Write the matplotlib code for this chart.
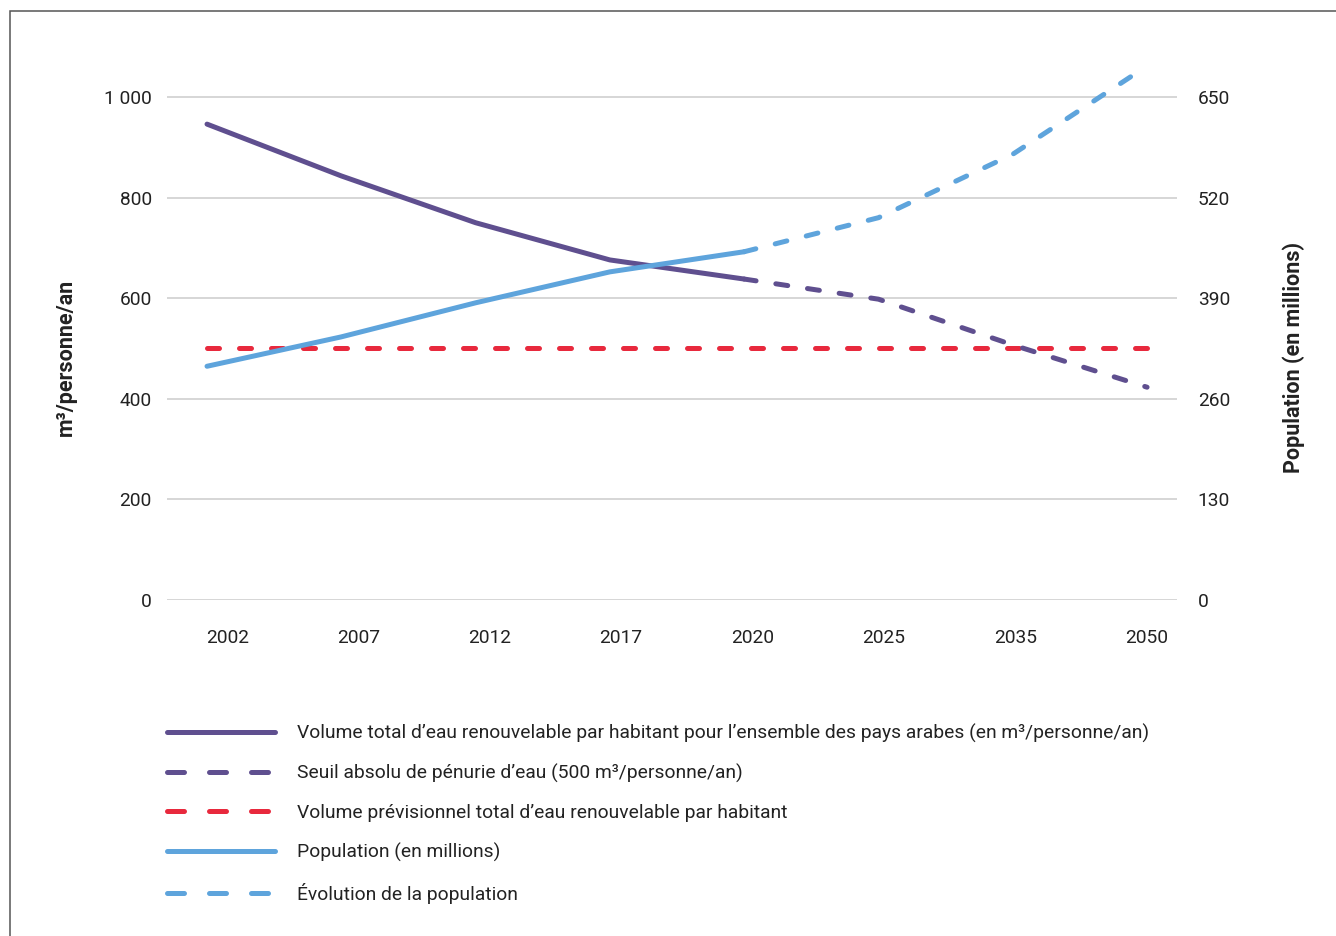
import matplotlib.pyplot as plt
import matplotlib.patches as mpatches
from matplotlib.ticker import FuncFormatter

plt.rcParams['font.family'] = ['Roboto', 'DejaVu Sans']

# data
years = ['2002', '2007', '2012', '2017', '2020', '2025', '2035', '2050']
water = [946, 843, 750, 676, 638, 598, 507, 423]          # m3/personne/an
threshold = [500, 500, 500, 500, 500, 500, 500, 500]
population = [302, 340, 384, 424, 450, 494, 576, 690]     # millions
split = 4  # 2020: actual -> projection

purple = '#5f4f8f'
red = '#e8293d'
blue = '#5ea4dc'
text_col = '#222222'

fig = plt.figure(figsize=(13.36, 9.36), dpi=100)
ax = fig.add_axes([0.125, 0.359, 0.756, 0.5804])
ax2 = ax.twinx()

x = list(range(len(years)))
lw = 3.6
dash = (2.4, 4.0)
leg_dash = (3.4, 5.0)

ax.plot(x, threshold, color=red, lw=lw, dashes=dash, dash_capstyle='round', zorder=2)
ax.plot(x[:split + 1], water[:split + 1], color=purple, lw=lw, solid_capstyle='round', zorder=3)
ax.plot(x[split:], water[split:], color=purple, lw=lw, dashes=dash, dash_capstyle='round', zorder=3)
ax2.plot(x[:split + 1], population[:split + 1], color=blue, lw=lw, solid_capstyle='round')
ax2.plot(x[split:], population[split:], color=blue, lw=lw, dashes=dash, dash_capstyle='round')

ax.set_xlim(-0.298, 7.223)
ax.set_ylim(0, 1080)
ax2.set_ylim(0, 702)
ax.set_yticks([0, 200, 400, 600, 800, 1000])
ax2.set_yticks([0, 130, 260, 390, 520, 650])
ax.yaxis.set_major_formatter(FuncFormatter(lambda v, p: f'{int(v):,}'.replace(',', ' ')))
# the original's labels sit a bit off the data points (shifted right at the start)
ax.set_xticks([0.15 + i * 0.978 for i in x])
ax.set_xticklabels(years)

for a in (ax, ax2):
    for s in a.spines.values():
        s.set_visible(False)
    a.tick_params(length=0, labelsize=13.8, colors=text_col)
ax.tick_params(axis='x', pad=21)
ax.tick_params(axis='y', pad=11)
ax2.tick_params(axis='y', pad=15)
ax.grid(axis='y', color='#cccccc', lw=1.1)
ax.set_axisbelow(True)

fig.text(0.049, 0.618, 'm³/personne/an', rotation=90, ha='center', va='center',
         fontsize=15.5, fontweight='bold', color=text_col)
fig.text(0.968, 0.618, 'Population (en millions)', rotation=90, ha='center', va='center',
         fontsize=15.5, fontweight='bold', color=text_col)

# legend
handles = [
    plt.Line2D([], [], color=purple, lw=lw, solid_capstyle='round'),
    plt.Line2D([], [], color=purple, lw=lw, dashes=leg_dash, dash_capstyle='round'),
    plt.Line2D([], [], color=red, lw=lw, dashes=leg_dash, dash_capstyle='round'),
    plt.Line2D([], [], color=blue, lw=lw, solid_capstyle='round'),
    plt.Line2D([], [], color=blue, lw=lw, dashes=leg_dash, dash_capstyle='round'),
]
labels = [
    'Volume total d’eau renouvelable par habitant pour l’ensemble des pays arabes (en m³/personne/an)',
    'Seuil absolu de pénurie d’eau (500 m³/personne/an)',
    'Volume prévisionnel total d’eau renouvelable par habitant',
    'Population (en millions)',
    'Évolution de la population',
]
leg = fig.legend(handles, labels, loc='upper left', bbox_to_anchor=(0.125, 0.2262),
                 frameon=False, fontsize=13.85, handlelength=5.6, handletextpad=1.15,
                 labelspacing=1.08, borderpad=0, borderaxespad=0)
for t in leg.get_texts():
    t.set_color(text_col)

# page frame
fig.patches.append(mpatches.Rectangle((10 / 1336, -0.1), 1.2, 1 - 11 / 936 + 0.1,
                                      transform=fig.transFigure, fill=False,
                                      edgecolor='#555555', lw=1.1))

fig.savefig('out.png', dpi=100)
